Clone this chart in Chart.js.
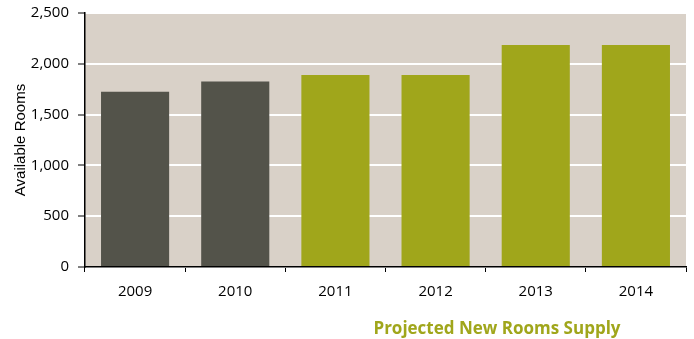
<!DOCTYPE html>
<html>
<head>
<meta charset="utf-8">
<script src="https://cdn.jsdelivr.net/npm/chart.js@4/dist/chart.umd.min.js"></script>
<style>
  html, body { margin: 0; padding: 0; background: #fff; }
  #wrap { width: 694px; height: 339px; }
</style>
</head>
<body>
<div id="wrap"><canvas id="roomsChart"></canvas></div>
<script>
// Room supply by year (2011 onwards are projections)
const years = ['2009', '2010', '2011', '2012', '2013', '2014'];
const rooms = [1725, 1825, 1890, 1890, 2185, 2185];
const projected = [false, false, true, true, true, true];
const yTicks = [0, 500, 1000, 1500, 2000, 2500];

const actualColor = '#53534a';
const projectedColor = '#a0a61b';
const fontFamily = "'Open Sans', 'Liberation Sans', sans-serif";

// Fill the plot area with the beige background
const plotBackground = {
  id: 'plotBackground',
  beforeDraw(chart) {
    const { ctx, chartArea: a } = chart;
    ctx.save();
    ctx.fillStyle = '#d9d1c8';
    ctx.fillRect(a.left, a.top, a.right - a.left, a.bottom - a.top);
    ctx.restore();
  }
};

// Caption under the x axis
const caption = {
  id: 'caption',
  afterDraw(chart) {
    const ctx = chart.ctx;
    ctx.save();
    ctx.font = 'bold 17px ' + fontFamily;
    ctx.fillStyle = projectedColor;
    ctx.textAlign = 'center';
    ctx.textBaseline = 'middle';
    ctx.fillText('Projected New Rooms Supply', 497, 329);
    ctx.restore();
  }
};

new Chart(document.getElementById('roomsChart'), {
  type: 'bar',
  data: {
    labels: years,
    datasets: [{
      data: rooms,
      backgroundColor: projected.map(p => p ? projectedColor : actualColor),
      categoryPercentage: 1,
      barPercentage: 0.68
    }]
  },
  options: {
    responsive: true,
    maintainAspectRatio: false,
    animation: false,
    layout: { padding: { left: 0, right: 8, top: 13, bottom: 0 } },
    plugins: {
      legend: { display: false },
      tooltip: { enabled: false }
    },
    scales: {
      x: {
        afterFit: s => { s.height = 72; },
        grid: {
          offset: true,
          drawOnChartArea: false,
          tickColor: '#000',
          tickLength: 5,
          tickWidth: 1
        },
        border: { color: '#000', width: 1.5 },
        ticks: {
          padding: 11,
          color: '#000',
          font: { family: fontFamily, size: 15 }
        }
      },
      y: {
        min: 0,
        max: 2500,
        afterFit: s => { s.width = 85; s.paddingTop = 0; },
        afterBuildTicks: s => { s.ticks = yTicks.map(v => ({ value: v })); },
        grid: {
          color: '#ffffff',
          lineWidth: 2,
          tickColor: '#000',
          tickLength: 7,
          tickWidth: 1
        },
        border: { color: '#000', width: 1.5 },
        ticks: {
          padding: 9,
          color: '#000',
          font: { family: fontFamily, size: 15, lineHeight: 1 },
          callback: v => v.toLocaleString('en-US')
        },
        title: {
          display: true,
          text: 'Available Rooms',
          color: '#000',
          font: { family: "'Liberation Sans', Arial, sans-serif", size: 15 },
          padding: { top: 12, bottom: 0 }
        }
      }
    }
  },
  plugins: [plotBackground, caption]
});
</script>
</body>
</html>
